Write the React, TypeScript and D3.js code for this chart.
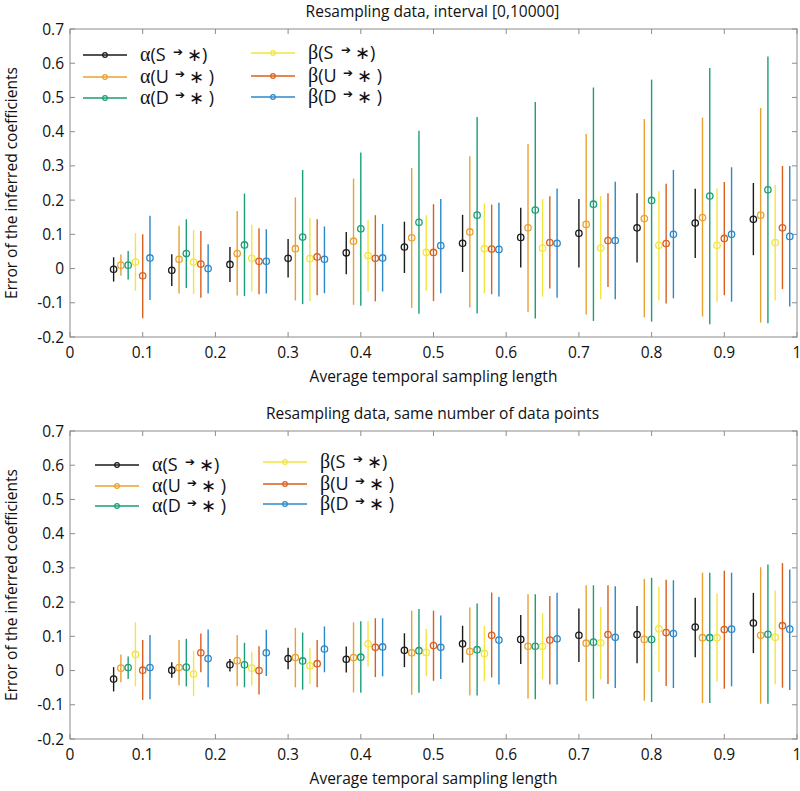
import React from "react";
import * as d3 from "d3";

// ---------- data ----------
const groupX = [0.06, 0.14, 0.22, 0.3, 0.38, 0.46, 0.54, 0.62, 0.7, 0.78, 0.86, 0.94];
const seriesOffset = [0, 0.01, 0.02, 0.03, 0.04, 0.05];
const seriesKeys = ["S", "U", "D", "S", "U", "D"];
const seriesGreek = ["α", "α", "α", "β", "β", "β"];
const seriesColors = ["#1a1a1a", "#E9A130", "#1B9E77", "#F2E540", "#D9601E", "#2B88C9"];
const xTicks = [0, 0.1, 0.2, 0.3, 0.4, 0.5, 0.6, 0.7, 0.8, 0.9, 1];
const xTickLabels = ["0", "0.1", "0.2", "0.3", "0.4", "0.5", "0.6", "0.7", "0.8", "0.9", "1"];
const yTicks = [-0.2, -0.1, 0, 0.1, 0.2, 0.3, 0.4, 0.5, 0.6, 0.7];
const yTickLabels = ["-0.2", "-0.1", "0", "0.1", "0.2", "0.3", "0.4", "0.5", "0.6", "0.7"];
const titles = ["Resampling data, interval [0,10000]", "Resampling data, same number of data points"];
const xLabel = "Average temporal sampling length";
const yLabel = "Error of the inferred coefficients";

// each entry: [mean, lower, upper]
const p1_aS = [[-0.002,-0.038,0.033],[-0.005,-0.051,0.042],[0.012,-0.039,0.063],[0.030,-0.026,0.086],[0.046,-0.017,0.107],[0.063,-0.013,0.137],[0.074,-0.010,0.157],[0.091,0.003,0.178],[0.103,0.003,0.203],[0.119,0.018,0.220],[0.133,0.031,0.233],[0.144,0.039,0.250]];
const p1_aU = [[0.010,-0.021,0.041],[0.027,-0.073,0.125],[0.044,-0.079,0.168],[0.058,-0.093,0.208],[0.080,-0.106,0.263],[0.090,-0.115,0.294],[0.107,-0.114,0.328],[0.119,-0.127,0.364],[0.129,-0.134,0.393],[0.146,-0.143,0.437],[0.149,-0.140,0.441],[0.156,-0.158,0.469]];
const p1_aD = [[0.010,-0.032,0.051],[0.044,-0.057,0.144],[0.069,-0.080,0.219],[0.092,-0.104,0.288],[0.116,-0.109,0.339],[0.135,-0.132,0.403],[0.156,-0.131,0.443],[0.171,-0.146,0.487],[0.188,-0.153,0.529],[0.199,-0.155,0.552],[0.212,-0.163,0.586],[0.230,-0.160,0.620]];
const p1_bS = [[0.019,-0.065,0.104],[0.019,-0.075,0.112],[0.030,-0.067,0.128],[0.029,-0.095,0.148],[0.038,-0.067,0.141],[0.047,-0.065,0.156],[0.058,-0.072,0.190],[0.060,-0.082,0.203],[0.060,-0.090,0.212],[0.068,-0.093,0.226],[0.068,-0.097,0.234],[0.076,-0.093,0.244]];
const p1_bU = [[-0.021,-0.145,0.100],[0.013,-0.085,0.110],[0.021,-0.075,0.118],[0.034,-0.078,0.144],[0.030,-0.096,0.156],[0.047,-0.095,0.188],[0.057,-0.075,0.187],[0.076,-0.058,0.211],[0.082,-0.054,0.220],[0.073,-0.102,0.248],[0.088,-0.078,0.253],[0.119,-0.060,0.300]];
const p1_bD = [[0.031,-0.092,0.154],[0.000,-0.073,0.071],[0.021,-0.073,0.115],[0.027,-0.072,0.123],[0.031,-0.067,0.130],[0.067,-0.072,0.203],[0.056,-0.082,0.192],[0.074,-0.085,0.234],[0.082,-0.090,0.254],[0.100,-0.087,0.288],[0.100,-0.097,0.296],[0.094,-0.111,0.300]];

const p2_aS = [[-0.025,-0.061,0.010],[0.001,-0.021,0.024],[0.017,-0.003,0.034],[0.035,0.004,0.067],[0.033,-0.006,0.070],[0.059,0.010,0.109],[0.078,0.023,0.131],[0.091,0.019,0.162],[0.103,0.025,0.181],[0.105,0.021,0.189],[0.127,0.039,0.213],[0.139,0.051,0.227]];
const p2_aU = [[0.007,-0.034,0.047],[0.009,-0.043,0.089],[0.029,-0.046,0.104],[0.038,-0.049,0.125],[0.038,-0.064,0.141],[0.052,-0.071,0.175],[0.056,-0.073,0.184],[0.071,-0.082,0.223],[0.080,-0.089,0.249],[0.091,-0.088,0.268],[0.096,-0.095,0.286],[0.103,-0.097,0.302]];
const p2_aD = [[0.009,-0.025,0.041],[0.010,-0.046,0.093],[0.017,-0.049,0.081],[0.028,-0.056,0.111],[0.039,-0.065,0.144],[0.058,-0.065,0.180],[0.061,-0.073,0.196],[0.071,-0.084,0.223],[0.083,-0.082,0.249],[0.091,-0.092,0.271],[0.096,-0.095,0.286],[0.106,-0.097,0.310]];
const p2_bS = [[0.047,-0.046,0.141],[-0.010,-0.074,0.058],[0.007,-0.044,0.055],[0.014,-0.039,0.065],[0.078,0.012,0.144],[0.053,-0.017,0.122],[0.050,-0.031,0.130],[0.071,-0.026,0.167],[0.081,-0.026,0.186],[0.122,-0.004,0.245],[0.096,-0.033,0.225],[0.097,-0.040,0.234]];
const p2_bU = [[0.001,-0.086,0.089],[0.052,-0.005,0.108],[0.000,-0.070,0.071],[0.020,-0.049,0.089],[0.068,-0.019,0.153],[0.073,-0.030,0.175],[0.103,-0.020,0.228],[0.089,-0.041,0.218],[0.105,-0.039,0.249],[0.111,-0.045,0.265],[0.120,-0.053,0.292],[0.131,-0.050,0.314]];
const p2_bD = [[0.009,-0.084,0.104],[0.035,-0.049,0.120],[0.052,-0.016,0.119],[0.063,-0.005,0.129],[0.069,-0.017,0.153],[0.068,-0.025,0.161],[0.089,-0.041,0.215],[0.093,-0.041,0.227],[0.097,-0.051,0.246],[0.108,-0.051,0.264],[0.121,-0.046,0.286],[0.121,-0.057,0.295]];

const panelData = [
  [p1_aS, p1_aU, p1_aD, p1_bS, p1_bU, p1_bD],
  [p2_aS, p2_aU, p2_aD, p2_bS, p2_bU, p2_bD],
];

// ---------- layout ----------
const W = 800;
const H = 791;
const left = 70;
const right = 797;
const panels = [
  { top: 29, bottom: 337, legendX: [83, 251], legendY: [[55, 77, 98], [53, 76, 97]] },
  { top: 431, bottom: 739, legendX: [95, 263], legendY: [[465, 486, 506], [462, 484, 504]] },
];
const FONT = "'Open Sans', 'Noto Sans', sans-serif";
const AXIS_COLOR = "#8c8c8c";

function LegendLabel({ x, y, greek, key2 }: { x: number; y: number; greek: string; key2: string }) {
  return (
    <g>
      <text x={x} y={y + 6} fontFamily={FONT} fontSize={18} fill="#111">
        <tspan fontFamily="'Liberation Serif', serif" fontSize={20}>{greek}</tspan>
        {"(" + key2}
      </text>
      <text x={x + (key2 === "S" ? 33 : 35)} y={y + 1} fontFamily="'DejaVu Sans', sans-serif" fontSize={12} fill="#111">
        ➔
      </text>
      <text x={x + (key2 === "S" ? 47 : 49)} y={y + 6} fontFamily={FONT} fontSize={18} fill="#111">
        {key2 === "S" ? "∗)" : "∗ )"}
      </text>
    </g>
  );
}

function Panel({ idx }: { idx: number }) {
  const p = panels[idx];
  const x = d3.scaleLinear().domain([0, 1]).range([left, right]);
  const y = d3.scaleLinear().domain([-0.2, 0.7]).range([p.bottom, p.top]);
  const data = panelData[idx];
  const tick = 5;
  return (
    <g>
      <text x={(left + right) / 2 - 1} y={p.top - 12} textAnchor="middle" fontFamily={FONT} fontSize={15.5} fill="#111">
        {titles[idx]}
      </text>
      <rect x={left} y={p.top} width={right - left} height={p.bottom - p.top} fill="white" stroke={AXIS_COLOR} strokeWidth={1} />
      {xTicks.map((t, i) => (
        <g key={"xt" + i}>
          <line x1={x(t)} x2={x(t)} y1={p.bottom} y2={p.bottom - tick} stroke={AXIS_COLOR} />
          <line x1={x(t)} x2={x(t)} y1={p.top} y2={p.top + tick} stroke={AXIS_COLOR} />
          <text x={x(t)} y={p.bottom + 21} textAnchor="middle" fontFamily={FONT} fontSize={15.5} fill="#111">
            {xTickLabels[i]}
          </text>
        </g>
      ))}
      {yTicks.map((t, i) => (
        <g key={"yt" + i}>
          <line x1={left} x2={left + tick} y1={y(t)} y2={y(t)} stroke={AXIS_COLOR} />
          <line x1={right} x2={right - tick} y1={y(t)} y2={y(t)} stroke={AXIS_COLOR} />
          <text x={left - 6} y={y(t) + 5.5} textAnchor="end" fontFamily={FONT} fontSize={15.5} fill="#111">
            {yTickLabels[i]}
          </text>
        </g>
      ))}
      <text x={(left + right) / 2} y={p.bottom + 45} textAnchor="middle" fontFamily={FONT} fontSize={15.5} fill="#111">
        {xLabel}
      </text>
      <text
        transform={`translate(17, ${(p.top + p.bottom) / 2}) rotate(-90)`}
        textAnchor="middle"
        fontFamily={FONT}
        fontSize={15.5}
        fill="#111"
      >
        {yLabel}
      </text>
      {data.map((series, s) => (
        <g key={"s" + s}>
          {series.map((d, g) => {
            const cx = x(groupX[g] + seriesOffset[s]);
            return (
              <g key={g}>
                <line x1={cx} x2={cx} y1={y(d[1])} y2={y(d[2])} stroke={seriesColors[s]} strokeWidth={1.4} />
                <circle cx={cx} cy={y(d[0])} r={3.2} fill="none" stroke={seriesColors[s]} strokeWidth={1.3} />
              </g>
            );
          })}
        </g>
      ))}
      {seriesColors.map((c, s) => {
        const col = s < 3 ? 0 : 1;
        const row = s % 3;
        const lx = p.legendX[col];
        const ly = p.legendY[col][row];
        return (
          <g key={"lg" + s}>
            <line x1={lx} x2={lx + 44} y1={ly} y2={ly} stroke={c} strokeWidth={1.4} />
            <circle cx={lx + 22} cy={ly} r={2.3} fill="none" stroke={c} strokeWidth={1.2} />
            <LegendLabel x={lx + 57} y={ly} greek={seriesGreek[s]} key2={seriesKeys[s]} />
          </g>
        );
      })}
    </g>
  );
}

export default function App() {
  return (
    <svg width={W} height={H} style={{ position: "absolute", left: 0, top: 0, background: "white" }}>
      <rect width={W} height={H} fill="white" />
      <Panel idx={0} />
      <Panel idx={1} />
    </svg>
  );
}
